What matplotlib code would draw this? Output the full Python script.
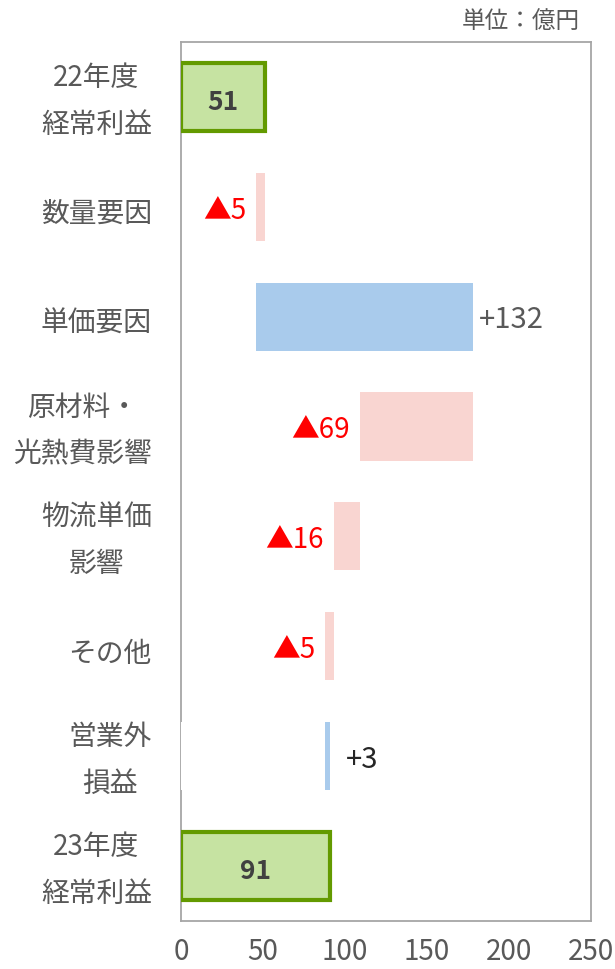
import numpy as np
import matplotlib
matplotlib.use('Agg')
import matplotlib.pyplot as plt
import matplotlib.transforms as mtransforms

plt.rcParams['font.family'] = ['Noto Sans CJK JP', 'DejaVu Sans']

# data
categories = ['22年度\n経常利益', '数量要因', '単価要因', '原材料・\n光熱費影響',
              '物流単価\n影響', 'その他', '営業外\n損益', '23年度\n経常利益']
values = [51, -5, 132, -69, -16, -5, 3, 91]
is_total = [True, False, False, False, False, False, False, True]
xticks = [0, 50, 100, 150, 200, 250]

green_fill = '#C6E3A2'
green_edge = '#639A00'
pink = '#F9D5D1'
blue = '#A9CBEC'
gray_txt = '#595959'

fig = plt.figure(figsize=(6.15, 9.70), dpi=100)
ax = fig.add_axes([0.2943, 0.0495, 0.6667, 0.9062])

y = np.arange(len(categories))
run = 0
for i, v in enumerate(values):
    if is_total[i]:
        left, width = 0, v
        run = v
        ax.barh(y[i], width, left=left, height=0.62, color=green_fill,
                edgecolor=green_edge, linewidth=3, zorder=3)
        ax.annotate(str(v), (v / 2, y[i]), xytext=(0, -3), textcoords='offset points',
                    ha='center', va='center', fontsize=19,
                    fontweight='bold', color='#404040', zorder=4)
    else:
        start = run
        run = run + v
        left, width = min(start, run), abs(v)
        col = blue if v > 0 else pink
        if i == 6:
            # white base bar hides the axis line in this row
            ax.barh(y[i], left, left=0, height=0.62, color='white', zorder=3)
        ax.barh(y[i], width, left=left, height=0.62, color=col, zorder=3)
        if v > 0:
            ax.annotate('+%d' % v, (left + width, y[i]), xytext=(4 if v > 10 else 11, -2),
                        textcoords='offset points', ha='left', va='center',
                        fontsize=21, color=gray_txt if v > 10 else '#262626')
        else:
            ax.annotate('▲%d' % abs(v), (left, y[i]), xytext=(-7, -2),
                        textcoords='offset points', ha='right', va='center',
                        fontsize=20, color='#FF0000')

ax.set_xlim(0, 250)
ax.set_ylim(len(categories) - 0.5, -0.5)
ax.set_xticks(xticks)
ax.set_xticklabels([str(t) for t in xticks], fontsize=20, color=gray_txt)
ax.set_yticks(y)
ax.set_yticklabels(categories, fontsize=20, color=gray_txt)
ax.tick_params(axis='both', length=0)
ax.tick_params(axis='x', pad=11)
ax.tick_params(axis='y', pad=21)
for s in ax.spines.values():
    s.set_color('#A6A6A6')
    s.set_linewidth(1.3)

for lab in ax.get_yticklabels():
    lab.set_multialignment('center')
    lab.set_linespacing(1.72)
    if '\n' in lab.get_text():
        shift = mtransforms.ScaledTranslation(0, 6 / 72, fig.dpi_scale_trans)
        lab.set_transform(lab.get_transform() + shift)
    else:
        shift = mtransforms.ScaledTranslation(0, -2 / 72, fig.dpi_scale_trans)
        lab.set_transform(lab.get_transform() + shift)

fig.text(580 / 615, 1 - 22 / 970, '単位：億円', ha='right', va='center',
         fontsize=17, color=gray_txt)

fig.savefig('out.png', dpi=100)
